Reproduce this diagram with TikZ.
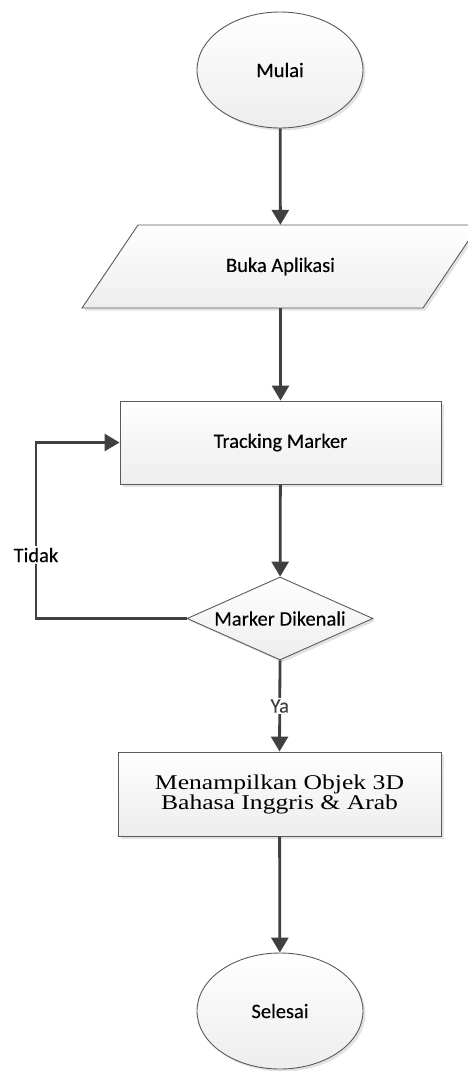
\documentclass[tikz,border=0pt]{standalone}
\usepackage{fontspec}
\setmainfont[FakeBold=0.2]{Carlito}
\newfontfamily\boxserif[FakeStretch=1.22]{Liberation Serif}
\usetikzlibrary{calc,shapes.geometric,arrows.meta,shadows}
\definecolor{flowgray}{HTML}{404040}
\definecolor{edgegray}{HTML}{5A5A5A}

\begin{document}
\begin{tikzpicture}[x=1pt, y=1pt,
  font=\fontsize{20.5}{24}\selectfont,
  shapebox/.style={draw=edgegray, line width=0.9pt, top color=white, bottom color=gray!14,
    drop shadow={opacity=0.22, shadow xshift=2.5pt, shadow yshift=-2.5pt}},
  startend/.style={shapebox, ellipse, minimum width=166, minimum height=116, inner sep=0pt},
  process/.style={shapebox, rectangle, inner sep=0pt},
  decision/.style={shapebox, diamond, minimum width=186, minimum height=83, inner sep=0pt},
  flow/.style={flowgray, line width=2.8pt, -{Triangle[length=15pt, width=17pt]}},
  branch/.style={fill=white, inner sep=1.5pt}]
  \useasboundingbox (0,0) rectangle (467,-1071);
  \node[startend] (mulai) at (280,-70) {Mulai};
  \coordinate (bk) at (280.5,-266.5);
  \draw[shapebox] ($(bk)+(-198.5,-41.5)$) -- ($(bk)+(142.5,-41.5)$) -- ($(bk)+(198.5,41.5)$) -- ($(bk)+(-142.5,41.5)$) -- cycle;
  \node[minimum width=341, minimum height=83, inner sep=0pt] (buka) at (bk) {Buka Aplikasi};
  \node[process, minimum width=321, minimum height=83] (track) at (280.5,-442.5) {Tracking Marker};
  \node[decision] (dec) at (280,-618.5) {};
  \node (dectext) at (dec) {Marker Dikenali};
  \node[process, minimum width=323, minimum height=84, font=\boxserif\fontsize{21}{20}\selectfont, align=center] (tampil) at (279.5,-794) {Menampilkan Objek 3D\\Bahasa Inggris \& Arab};
  \node[startend] (selesai) at (280,-1011) {Selesai};
  \coordinate (loop) at (36,-618.5);
  \draw[flow] (mulai) -- (buka);
  \draw[flow] (buka) -- (track);
  \draw[flow] (track) -- (dec);
  \draw[flow] (dec.south) -- (tampil.north) node[branch, midway] (ya) {Ya};
  \draw[flow] (tampil) -- (selesai);
  \draw[flow] (dec.west) -- (loop) |- (track.west);
  \node[branch] (tidak) at (36,-555) {Tidak};
\end{tikzpicture}
\end{document}
